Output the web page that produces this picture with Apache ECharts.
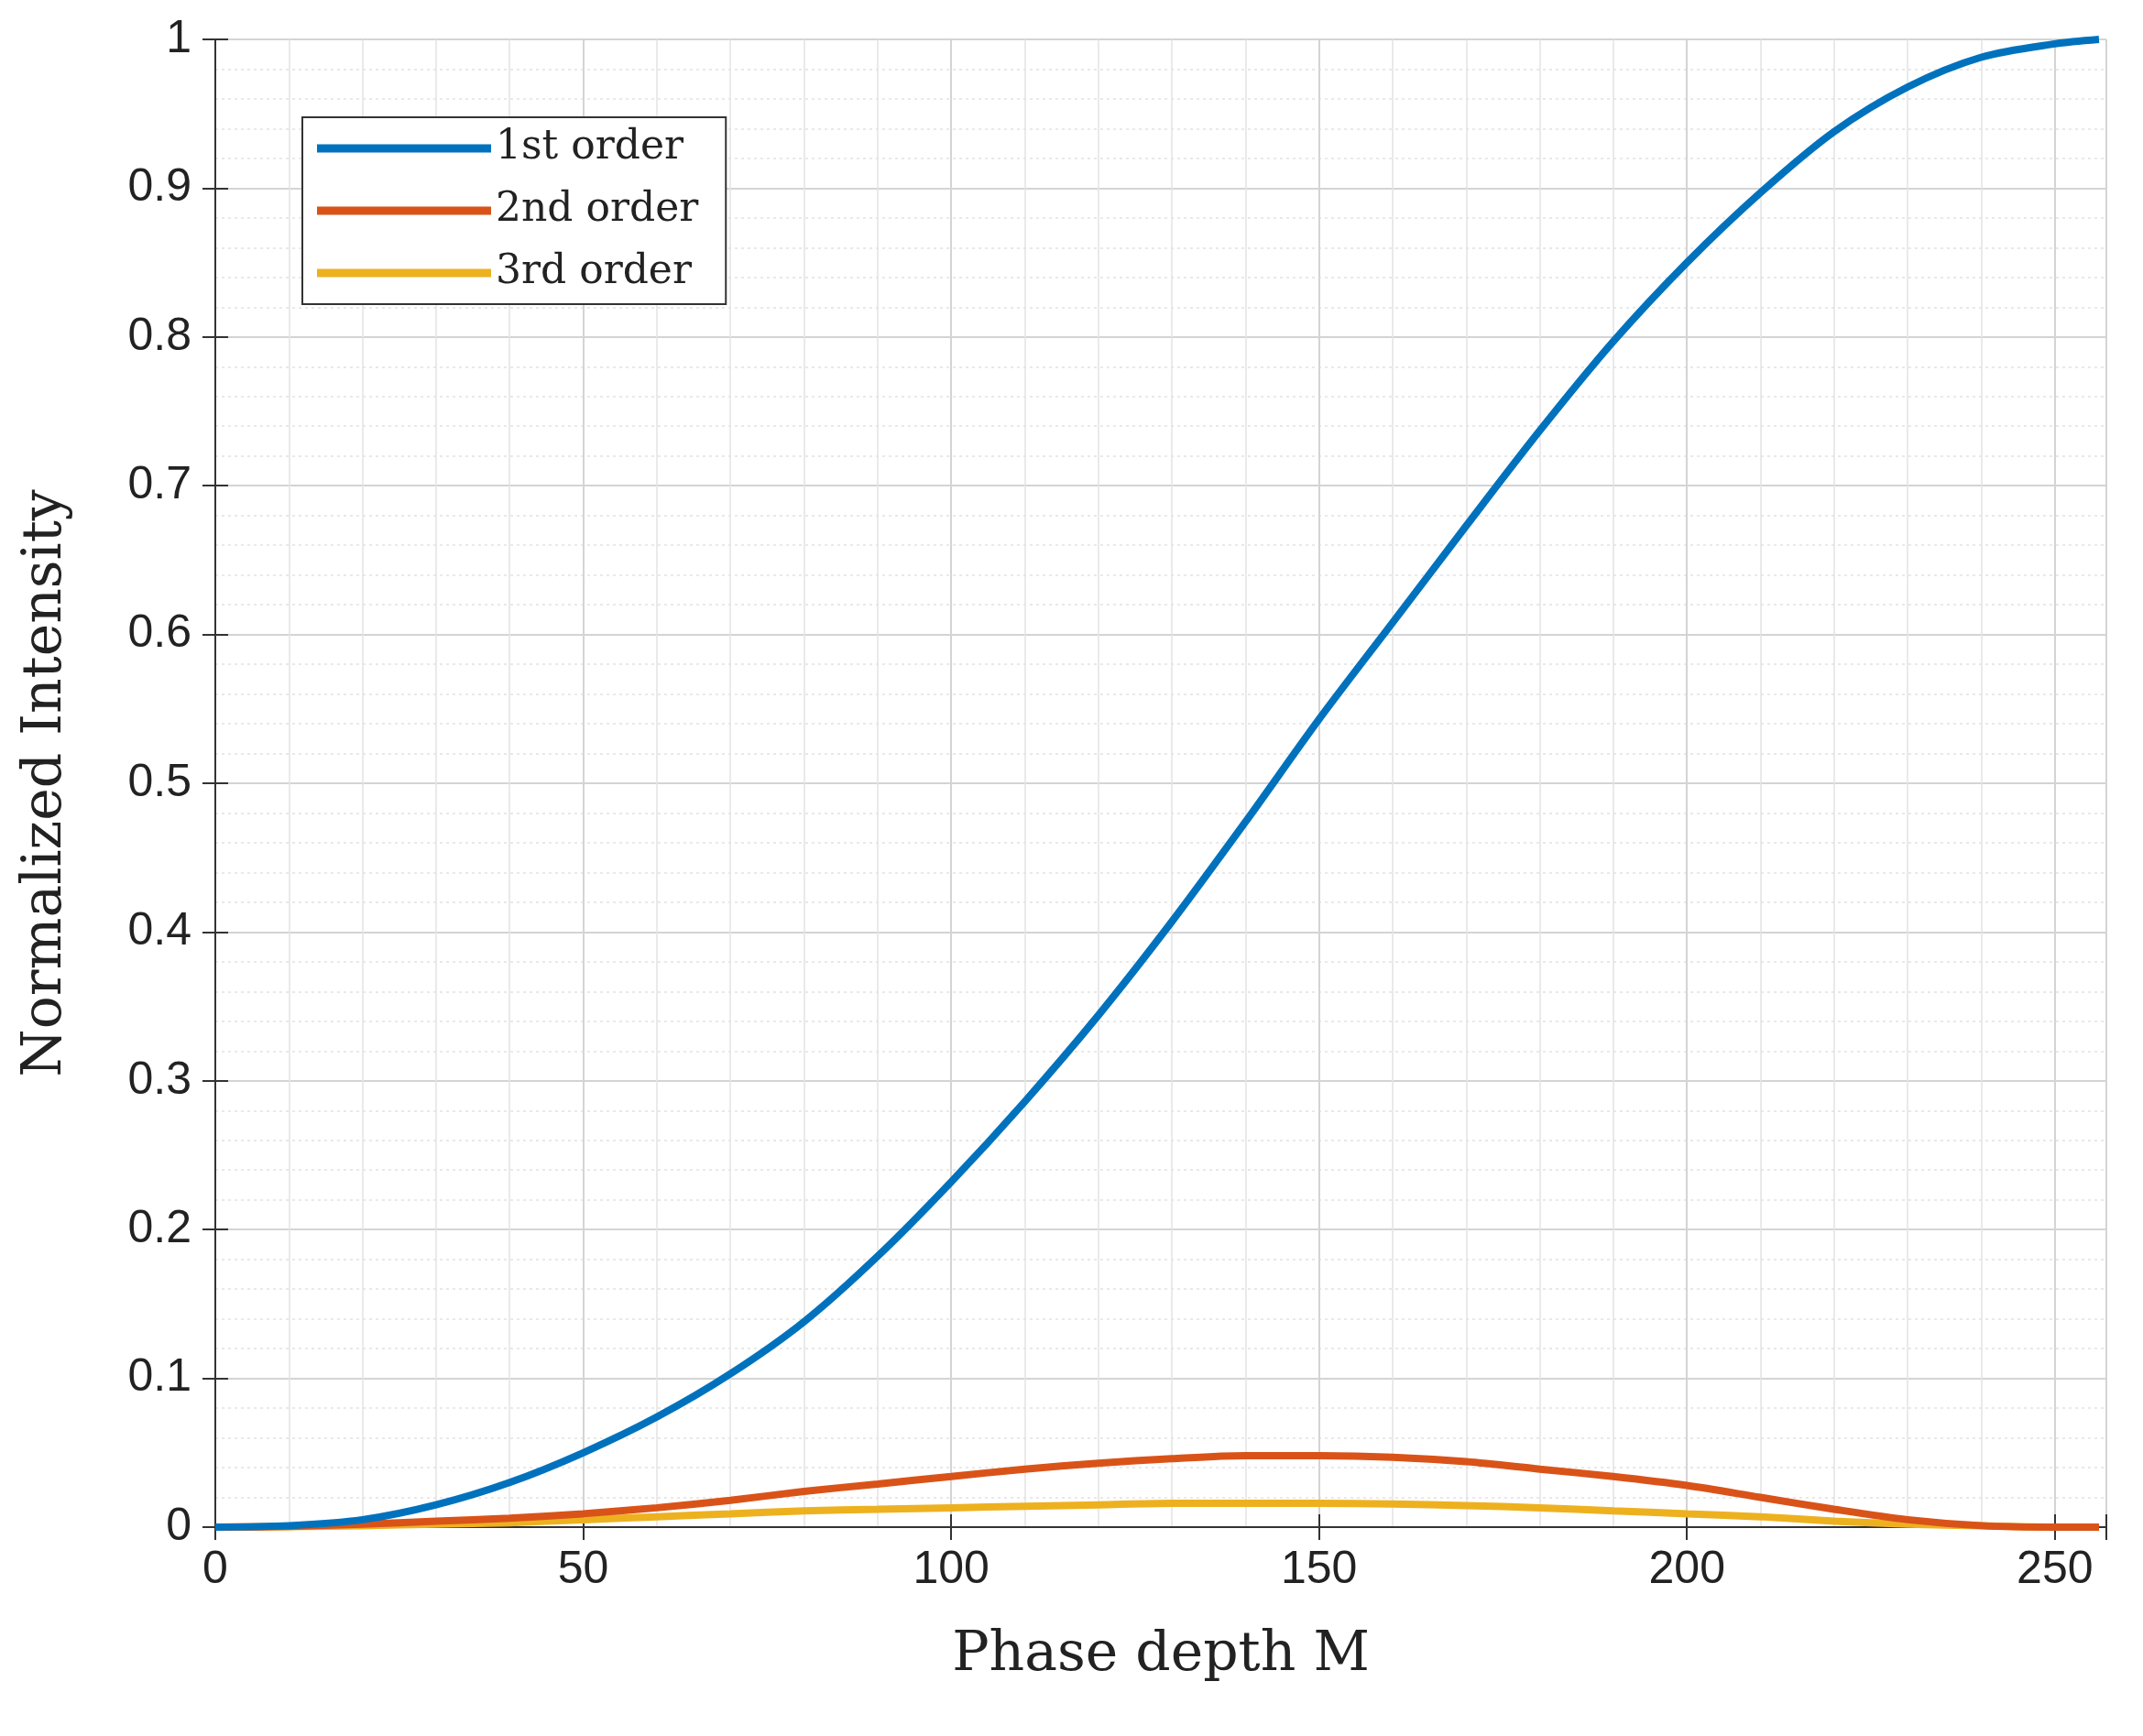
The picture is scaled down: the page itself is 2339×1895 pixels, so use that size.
<!DOCTYPE html>
<html>
<head>
<meta charset="utf-8">
<script src="https://cdn.jsdelivr.net/npm/echarts@6/dist/echarts.min.js"></script>
<style>html,body{margin:0;background:#fff}#chart{width:2339px;height:1895px}</style>
</head>
<body>
<div id="chart"></div>
<script>
var phaseDepth = [0, 10, 20, 30, 40, 50, 60, 70, 80, 90, 100, 110, 120, 130, 140, 150, 160, 170, 180, 190, 200, 210, 220, 230, 240, 250, 256];
var firstOrder = [0, 0.001, 0.005, 0.015, 0.03, 0.05, 0.074, 0.103, 0.138, 0.182, 0.232, 0.286, 0.344, 0.407, 0.474, 0.543, 0.608, 0.673, 0.737, 0.797, 0.85, 0.897, 0.938, 0.968, 0.988, 0.997, 1];
var secondOrder = [0, 0.0005, 0.002, 0.004, 0.006, 0.009, 0.013, 0.018, 0.024, 0.029, 0.034, 0.039, 0.043, 0.046, 0.048, 0.048, 0.047, 0.044, 0.039, 0.034, 0.028, 0.02, 0.012, 0.005, 0.001, 0, 0];
var thirdOrder = [0, 0.0003, 0.001, 0.002, 0.003, 0.005, 0.007, 0.009, 0.011, 0.012, 0.013, 0.014, 0.015, 0.016, 0.016, 0.016, 0.0155, 0.0145, 0.013, 0.011, 0.009, 0.007, 0.004, 0.002, 0.001, 0, 0];
var seriesNames = ['1st order', '2nd order', '3rd order'];
var seriesColors = ['#0072bd', '#d95319', '#edb120'];

function pairs(ys) {
    return phaseDepth.map(function(x, i) { return [x, ys[i]]; });
}

var gridLine = { show: true, lineStyle: { color: '#d4d4d4', width: 2 } };
var minorLine = { show: true, lineStyle: { color: '#e2e2e2', width: 1.5, type: [3, 4] } };
var axisTxt = { color: '#222', fontSize: 50, fontFamily: 'Liberation Sans' };
var titleTxt = { color: '#222', fontSize: 60, fontFamily: 'DejaVu Serif' };

var chart = echarts.init(document.getElementById('chart'));
chart.setOption({
    animation: false,
    grid: { left: 235, right: 40, top: 43, bottom: 228 },
    xAxis: [{
        type: 'value', min: 0, max: 257, interval: 50,
        name: 'Phase depth M', nameLocation: 'middle', nameGap: 110, nameTextStyle: titleTxt,
        axisLine: { lineStyle: { color: '#333', width: 2 } },
        axisTick: { inside: true, length: 14, lineStyle: { color: '#333', width: 2 } },
        axisLabel: Object.assign({ margin: 22 }, axisTxt),
        splitLine: gridLine,
        minorTick: { show: true, splitNumber: 5, length: 0 },
        minorSplitLine: { show: true, lineStyle: { color: '#e4e4e4', width: 1.5 } }
    }, {
        type: 'value', min: 0, max: 257, interval: 50, position: 'top',
        axisLine: { show: true, lineStyle: { color: '#333', width: 2 } },
        axisTick: { inside: true, length: 14, lineStyle: { color: '#333', width: 2 } },
        axisLabel: { show: false }, splitLine: { show: false }
    }],
    yAxis: [{
        type: 'value', min: 0, max: 1, interval: 0.1,
        name: 'Normalized Intensity', nameLocation: 'middle', nameGap: 155, nameTextStyle: titleTxt,
        axisLine: { show: true, lineStyle: { color: '#333', width: 2 } },
        axisTick: { show: true, inside: true, length: 14, lineStyle: { color: '#333', width: 2 } },
        axisLabel: Object.assign({ margin: 26 }, axisTxt),
        splitLine: gridLine,
        minorTick: { show: true, splitNumber: 5, length: 0 },
        minorSplitLine: minorLine
    }, {
        type: 'value', min: 0, max: 1, interval: 0.1, position: 'right',
        axisLine: { show: true, lineStyle: { color: '#333', width: 2 } },
        axisTick: { show: true, inside: true, length: 14, lineStyle: { color: '#333', width: 2 } },
        axisLabel: { show: false }, splitLine: { show: false }
    }],
    legend: {
        left: 330, top: 128, orient: 'vertical', itemGap: 24,
        itemWidth: 190, itemHeight: 9, icon: 'rect',
        backgroundColor: '#fff', borderColor: '#333', borderWidth: 2, padding: [12, 30, 12, 16],
        textStyle: { fontSize: 44, fontFamily: 'DejaVu Serif', color: '#222' },
        data: seriesNames
    },
    series: [firstOrder, secondOrder, thirdOrder].map(function(ys, i) {
        return {
            name: seriesNames[i], type: 'line', smooth: 0.3, showSymbol: false,
            data: pairs(ys), color: seriesColors[i],
            lineStyle: { width: 8, color: seriesColors[i] }, z: 10 - i
        };
    })
});
</script>
</body>
</html>
